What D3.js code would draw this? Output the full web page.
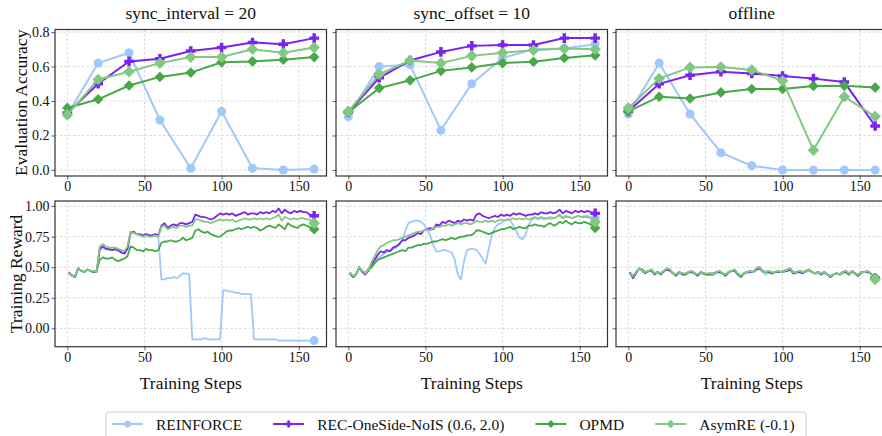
<!DOCTYPE html>
<html>
<head>
<meta charset="utf-8">
<script src="https://cdn.jsdelivr.net/npm/d3@7"></script>
<style>
  body { margin: 0; background: #fff; }
  text { font-family: "Liberation Serif", "Times New Roman", serif; fill: #111; }
</style>
</head>
<body>
<div id="chart"></div>
<script>
// ---- data ----
const methods = ["REINFORCE", "REC-OneSide-NoIS (0.6, 2.0)", "OPMD", "AsymRE (-0.1)"];
const colors = ["#a0c8fa", "#7b22f0", "#46a846", "#82c882"];
const shapes = ["circle", "plus", "diamond", "diamond"];
const panelTitles = ["sync_interval = 20", "sync_offset = 10", "offline"];

const evalSteps = [0, 20, 40, 60, 80, 100, 120, 140, 160];
const xTicks = [0, 50, 100, 150];
const evalTicks = [0.0, 0.2, 0.4, 0.6, 0.8];
const rewardTicks = [0.0, 0.25, 0.5, 0.75, 1.0];

// evaluation accuracy, order: REINFORCE, REC, OPMD, AsymRE
const evalInterval = [
  [0.32, 0.62, 0.68, 0.29, 0.01, 0.34, 0.01, 0.00, 0.005],
  [0.33, 0.50, 0.63, 0.645, 0.69, 0.71, 0.74, 0.73, 0.765],
  [0.36, 0.41, 0.49, 0.54, 0.565, 0.625, 0.63, 0.64, 0.655],
  [0.32, 0.525, 0.57, 0.62, 0.655, 0.655, 0.70, 0.68, 0.71]
];
const evalOffset = [
  [0.31, 0.60, 0.61, 0.23, 0.50, 0.65, 0.70, 0.705, 0.73],
  [0.335, 0.535, 0.635, 0.685, 0.72, 0.725, 0.725, 0.765, 0.765],
  [0.335, 0.475, 0.52, 0.575, 0.595, 0.62, 0.628, 0.65, 0.665],
  [0.34, 0.555, 0.635, 0.62, 0.662, 0.68, 0.695, 0.705, 0.70]
];
const evalOffline = [
  [0.325, 0.62, 0.325, 0.10, 0.025, 0.0, 0.0, 0.0, 0.0],
  [0.34, 0.50, 0.55, 0.57, 0.56, 0.545, 0.53, 0.51, 0.255],
  [0.34, 0.425, 0.415, 0.45, 0.47, 0.47, 0.487, 0.488, 0.478],
  [0.36, 0.53, 0.595, 0.597, 0.58, 0.518, 0.115, 0.425, 0.31]
];

// training reward, read every 2 steps (1, 3, ... 157); final value at step 160
const rewardIntervalReinforce = [
  0.45,0.43,0.42,0.49,0.47,0.46,0.48,0.47,0.46,0.46,
  0.64,0.66,0.65,0.64,0.64,0.64,0.63,0.62,0.62,0.65,
  0.78,0.78,0.77,0.76,0.76,0.77,0.76,0.76,0.76,0.75,
  0.40,0.40,0.41,0.41,0.42,0.41,0.43,0.45,0.45,0.44,
  -0.09,-0.09,-0.09,-0.09,-0.08,-0.09,-0.09,-0.09,-0.09,-0.09,
  0.31,0.31,0.30,0.30,0.29,0.29,0.28,0.28,0.28,0.28,
  -0.09,-0.09,-0.09,-0.09,-0.09,-0.09,-0.09,-0.09,-0.10,-0.10,
  -0.10,-0.10,-0.10,-0.10,-0.10,-0.10,-0.10,-0.10,-0.10
];
const rewardIntervalRec = [
  0.46,0.43,0.42,0.49,0.47,0.46,0.48,0.47,0.46,0.46,
  0.65,0.67,0.65,0.65,0.64,0.65,0.64,0.62,0.61,0.65,
  0.78,0.79,0.77,0.77,0.76,0.77,0.76,0.76,0.77,0.76,
  0.84,0.86,0.82,0.84,0.85,0.84,0.86,0.86,0.85,0.86,
  0.87,0.93,0.92,0.91,0.91,0.90,0.89,0.90,0.92,0.94,
  0.93,0.94,0.93,0.94,0.92,0.93,0.94,0.95,0.93,0.94,
  0.94,0.93,0.95,0.94,0.95,0.94,0.96,0.95,0.98,0.94,
  0.97,0.95,0.94,0.96,0.95,0.96,0.95,0.95,0.93
];
const rewardIntervalOpmd = [
  0.45,0.43,0.43,0.49,0.47,0.46,0.48,0.47,0.46,0.47,
  0.56,0.58,0.57,0.57,0.58,0.56,0.55,0.56,0.57,0.59,
  0.67,0.66,0.64,0.64,0.63,0.65,0.64,0.64,0.63,0.64,
  0.70,0.71,0.71,0.72,0.71,0.71,0.72,0.74,0.72,0.73,
  0.74,0.80,0.81,0.79,0.78,0.79,0.77,0.76,0.75,0.75,
  0.77,0.79,0.80,0.80,0.81,0.82,0.81,0.82,0.83,0.82,
  0.83,0.82,0.80,0.81,0.83,0.84,0.83,0.82,0.85,0.83,
  0.81,0.86,0.84,0.83,0.82,0.84,0.85,0.84,0.83
];
const rewardIntervalAsym = [
  0.45,0.43,0.43,0.49,0.47,0.46,0.48,0.47,0.47,0.46,
  0.67,0.69,0.67,0.66,0.66,0.66,0.65,0.64,0.63,0.67,
  0.79,0.78,0.77,0.76,0.75,0.76,0.75,0.75,0.76,0.75,
  0.83,0.84,0.81,0.82,0.83,0.82,0.84,0.84,0.83,0.84,
  0.84,0.89,0.89,0.88,0.87,0.87,0.86,0.87,0.88,0.89,
  0.88,0.89,0.88,0.89,0.87,0.88,0.89,0.90,0.89,0.89,
  0.90,0.89,0.90,0.89,0.90,0.89,0.90,0.91,0.93,0.88,
  0.91,0.90,0.89,0.90,0.89,0.90,0.90,0.89,0.89
];
const rewardIntervalFinal = [-0.10, 0.92, 0.81, 0.86];

const rewardOffsetReinforce = [
  0.46,0.42,0.44,0.49,0.47,0.45,0.49,0.52,0.54,0.57,
  0.59,0.61,0.62,0.63,0.65,0.66,0.68,0.72,0.80,0.86,
  0.87,0.88,0.88,0.87,0.85,0.81,0.76,0.68,0.63,0.63,
  0.64,0.64,0.63,0.62,0.56,0.44,0.40,0.55,0.64,0.65,
  0.65,0.64,0.61,0.57,0.53,0.65,0.76,0.82,0.85,0.86,
  0.88,0.89,0.88,0.84,0.79,0.74,0.73,0.77,0.85,0.89,
  0.90,0.89,0.90,0.89,0.90,0.89,0.90,0.91,0.92,0.90,
  0.91,0.91,0.90,0.91,0.92,0.91,0.92,0.92,0.91
];
const rewardOffsetRec = [
  0.45,0.42,0.44,0.50,0.46,0.44,0.47,0.52,0.56,0.60,
  0.63,0.62,0.64,0.63,0.66,0.67,0.69,0.72,0.72,0.74,
  0.75,0.76,0.78,0.77,0.80,0.81,0.82,0.81,0.85,0.84,
  0.87,0.86,0.88,0.87,0.86,0.88,0.87,0.89,0.88,0.89,
  0.88,0.93,0.94,0.92,0.91,0.90,0.91,0.92,0.91,0.93,
  0.92,0.93,0.92,0.94,0.93,0.94,0.93,0.92,0.93,0.93,
  0.94,0.93,0.95,0.94,0.94,0.95,0.94,0.95,0.97,0.94,
  0.96,0.95,0.94,0.96,0.95,0.96,0.95,0.96,0.95
];
const rewardOffsetOpmd = [
  0.45,0.42,0.44,0.50,0.47,0.45,0.48,0.50,0.53,0.56,
  0.57,0.58,0.59,0.60,0.61,0.62,0.63,0.64,0.63,0.66,
  0.66,0.67,0.68,0.68,0.69,0.69,0.70,0.71,0.71,0.72,
  0.73,0.72,0.73,0.74,0.73,0.74,0.75,0.75,0.76,0.76,
  0.77,0.80,0.80,0.79,0.78,0.77,0.78,0.79,0.80,0.81,
  0.81,0.82,0.83,0.81,0.82,0.83,0.82,0.82,0.84,0.84,
  0.85,0.84,0.84,0.83,0.85,0.86,0.84,0.85,0.87,0.86,
  0.88,0.86,0.85,0.87,0.86,0.86,0.87,0.86,0.85
];
const rewardOffsetAsym = [
  0.46,0.43,0.44,0.50,0.47,0.45,0.48,0.54,0.59,0.64,
  0.67,0.68,0.70,0.71,0.72,0.72,0.73,0.74,0.75,0.76,
  0.77,0.78,0.79,0.79,0.80,0.81,0.80,0.82,0.83,0.83,
  0.84,0.84,0.85,0.84,0.85,0.86,0.85,0.86,0.86,0.85,
  0.86,0.88,0.87,0.87,0.88,0.87,0.88,0.87,0.88,0.89,
  0.88,0.89,0.89,0.90,0.89,0.90,0.89,0.90,0.89,0.90,
  0.91,0.90,0.91,0.90,0.90,0.91,0.90,0.91,0.93,0.90,
  0.92,0.91,0.90,0.91,0.92,0.91,0.91,0.91,0.90
];
const rewardOffsetFinal = [0.90, 0.94, 0.82, 0.87];

const rewardOfflineReinforce = [
  0.45,0.43,0.46,0.48,0.48,0.46,0.46,0.48,0.45,0.46,
  0.45,0.46,0.48,0.48,0.45,0.44,0.45,0.45,0.44,0.45,
  0.46,0.45,0.44,0.45,0.44,0.44,0.45,0.44,0.45,0.46,
  0.45,0.44,0.45,0.47,0.47,0.44,0.43,0.45,0.45,0.46,
  0.46,0.48,0.49,0.46,0.44,0.46,0.45,0.46,0.46,0.46,
  0.46,0.47,0.48,0.45,0.45,0.46,0.46,0.46,0.47,0.46,
  0.45,0.45,0.45,0.45,0.44,0.43,0.44,0.45,0.44,0.45,
  0.46,0.44,0.46,0.44,0.43,0.45,0.46,0.46,0.45
];
const rewardOfflineRec = [
  0.46,0.41,0.45,0.49,0.47,0.45,0.47,0.47,0.44,0.46,
  0.44,0.47,0.48,0.47,0.45,0.43,0.46,0.44,0.44,0.46,
  0.46,0.45,0.43,0.46,0.45,0.44,0.44,0.44,0.46,0.46,
  0.45,0.43,0.46,0.47,0.47,0.44,0.42,0.45,0.46,0.46,
  0.46,0.48,0.49,0.47,0.46,0.46,0.45,0.46,0.46,0.46,
  0.47,0.47,0.48,0.45,0.46,0.46,0.45,0.47,0.48,0.46,
  0.45,0.46,0.44,0.46,0.44,0.42,0.44,0.45,0.44,0.46,
  0.46,0.44,0.47,0.45,0.43,0.46,0.46,0.46,0.45
];
const rewardOfflineOpmd = [
  0.45,0.42,0.46,0.49,0.48,0.46,0.47,0.48,0.45,0.46,
  0.45,0.47,0.49,0.48,0.45,0.44,0.46,0.45,0.44,0.46,
  0.47,0.45,0.44,0.46,0.45,0.44,0.45,0.45,0.46,0.47,
  0.45,0.44,0.46,0.47,0.48,0.44,0.42,0.45,0.46,0.47,
  0.46,0.49,0.50,0.47,0.46,0.47,0.45,0.46,0.47,0.46,
  0.47,0.48,0.49,0.45,0.46,0.47,0.46,0.47,0.48,0.46,
  0.45,0.46,0.45,0.46,0.44,0.42,0.44,0.45,0.44,0.46,
  0.47,0.44,0.47,0.45,0.43,0.46,0.46,0.47,0.45
];
const rewardOfflineAsym = [
  0.45,0.43,0.46,0.49,0.47,0.46,0.47,0.48,0.45,0.46,
  0.45,0.47,0.49,0.48,0.45,0.44,0.46,0.45,0.45,0.46,
  0.47,0.45,0.44,0.46,0.45,0.45,0.45,0.44,0.46,0.47,
  0.45,0.44,0.46,0.47,0.48,0.45,0.43,0.45,0.46,0.47,
  0.46,0.49,0.50,0.47,0.46,0.47,0.46,0.46,0.47,0.46,
  0.47,0.48,0.49,0.46,0.46,0.47,0.46,0.47,0.48,0.46,
  0.45,0.46,0.45,0.46,0.44,0.43,0.44,0.45,0.44,0.46,
  0.47,0.45,0.47,0.45,0.44,0.46,0.46,0.47,0.45
];
const rewardOfflineFinal = [0.41, 0.41, 0.41, 0.40];

const evalPanels = [evalInterval, evalOffset, evalOffline];
const rewardPanels = [
  [rewardIntervalReinforce, rewardIntervalRec, rewardIntervalOpmd, rewardIntervalAsym],
  [rewardOffsetReinforce, rewardOffsetRec, rewardOffsetOpmd, rewardOffsetAsym],
  [rewardOfflineReinforce, rewardOfflineRec, rewardOfflineOpmd, rewardOfflineAsym]
];
const rewardFinals = [rewardIntervalFinal, rewardOffsetFinal, rewardOfflineFinal];

// ---- layout ----
const width = 882, height = 436;
const panelLeft = [55, 336, 616];
const panelWidth = 271.5;
const rows = [
  { top: 29.5, bottom: 176, domain: [-0.035, 0.815], ticks: evalTicks, fmt: d3.format(".1f"), label: "Evaluation Accuracy", labelX: 27 },
  { top: 201, bottom: 346.7, domain: [-0.150, 1.041], ticks: rewardTicks, fmt: d3.format(".2f"), label: "Training Reward", labelX: 22 }
];
const markerSize = [4.5, 4.8, 5.3, 5.8];

const svg = d3.select("#chart").append("svg")
    .attr("width", width)
    .attr("height", height);

function markerPath(shape, r) {
    if (shape === "circle") return d3.symbol(d3.symbolCircle, Math.PI * r * r)();
    if (shape === "diamond") return `M0,${-r}L${r},0L0,${r}L${-r},0Z`;
    let b = r * 0.36;
    return `M${-b},${-r}H${b}V${-b}H${r}V${b}H${b}V${r}H${-b}V${b}H${-r}V${-b}H${-b}Z`;
}

rows.forEach((row, ri) => {
    panelLeft.forEach((left, ci) => {
        let x = d3.scaleLinear().domain([-8, 168]).range([left, left + panelWidth]);
        let y = d3.scaleLinear().domain(row.domain).range([row.bottom, row.top]);
        let g = svg.append("g");

        // grid
        g.selectAll(".gx").data(xTicks).enter().append("line")
            .attr("x1", d => x(d)).attr("x2", d => x(d))
            .attr("y1", row.top).attr("y2", row.bottom)
            .attr("stroke", "#cfcfcf").attr("stroke-width", 0.8).attr("stroke-dasharray", "2.5,2");
        g.selectAll(".gy").data(row.ticks).enter().append("line")
            .attr("x1", left).attr("x2", left + panelWidth)
            .attr("y1", d => y(d)).attr("y2", d => y(d))
            .attr("stroke", "#cfcfcf").attr("stroke-width", 0.8).attr("stroke-dasharray", "2.5,2");

        // axes
        let xAxis = g.append("g").attr("transform", `translate(0,${row.bottom})`)
            .call(d3.axisBottom(x).tickValues(xTicks).tickSize(3.5).tickPadding(2));
        let yAxis = g.append("g").attr("transform", `translate(${left},0)`)
            .call(d3.axisLeft(y).tickValues(row.ticks).tickSize(3.5).tickPadding(2)
                .tickFormat(ci === 0 ? row.fmt : ""));
        [xAxis, yAxis].forEach(a => {
            a.select(".domain").remove();
            a.selectAll("line").attr("stroke", "#333").attr("stroke-width", 0.8);
            a.selectAll("text").attr("font-size", 14).attr("fill", "#111")
                .attr("font-family", "Liberation Serif, serif");
        });

        // series
        if (ri === 0) {
            let series = evalPanels[ci];
            series.forEach((vals, si) => {
                let pts = vals.map((v, i) => [evalSteps[i], v]);
                g.append("path")
                    .attr("d", d3.line().x(d => x(d[0])).y(d => y(d[1]))(pts))
                    .attr("fill", "none").attr("stroke", colors[si]).attr("stroke-width", 2);
                g.selectAll(null).data(pts).enter().append("path")
                    .attr("transform", d => `translate(${x(d[0])},${y(d[1])})`)
                    .attr("d", markerPath(shapes[si], markerSize[si]))
                    .attr("fill", colors[si]);
            });
        } else {
            let series = rewardPanels[ci];
            series.forEach((vals, si) => {
                let pts = vals.map((v, i) => [1 + 2 * i, v]);
                let last = [160, rewardFinals[ci][si]];
                pts.push(last);
                g.append("path")
                    .attr("d", d3.line().x(d => x(d[0])).y(d => y(d[1]))(pts))
                    .attr("fill", "none").attr("stroke", colors[si]).attr("stroke-width", 1.8)
                    .attr("stroke-linejoin", "round");
                g.append("path")
                    .attr("transform", `translate(${x(last[0])},${y(last[1])})`)
                    .attr("d", markerPath(shapes[si], markerSize[si]))
                    .attr("fill", colors[si]);
            });
        }

        // frame
        g.append("rect")
            .attr("x", left).attr("y", row.top)
            .attr("width", panelWidth).attr("height", row.bottom - row.top)
            .attr("fill", "none").attr("stroke", "#333").attr("stroke-width", 1.2);

        if (ri === 0) {
            svg.append("text")
                .attr("x", left + panelWidth / 2).attr("y", 19)
                .attr("text-anchor", "middle").attr("font-size", 17.5)
                .text(panelTitles[ci]);
        } else {
            svg.append("text")
                .attr("x", left + panelWidth / 2).attr("y", 389)
                .attr("text-anchor", "middle").attr("font-size", 17.5)
                .text("Training Steps");
        }
    });

    svg.append("text")
        .attr("transform", `translate(${row.labelX},${(row.top + row.bottom) / 2}) rotate(-90)`)
        .attr("text-anchor", "middle").attr("font-size", 17.5)
        .text(row.label);
});

// ---- legend ----
let legend = svg.append("g");
legend.append("rect")
    .attr("x", 106).attr("y", 412).attr("width", 700).attr("height", 34)
    .attr("rx", 3).attr("fill", "#fff").attr("stroke", "#d0d0d0").attr("stroke-width", 1);
let lx = 112;
methods.forEach((m, i) => {
    legend.append("line")
        .attr("x1", lx).attr("x2", lx + 31).attr("y1", 424).attr("y2", 424)
        .attr("stroke", colors[i]).attr("stroke-width", 2);
    legend.append("path")
        .attr("transform", `translate(${lx + 15.5},424)`)
        .attr("d", markerPath(shapes[i], markerSize[i] * 0.75))
        .attr("fill", colors[i]);
    let t = legend.append("text")
        .attr("x", lx + 44).attr("y", 429.5)
        .attr("font-size", 15.5)
        .text(m);
    lx += 44 + t.node().getComputedTextLength() + 31;
});
</script>
</body>
</html>
